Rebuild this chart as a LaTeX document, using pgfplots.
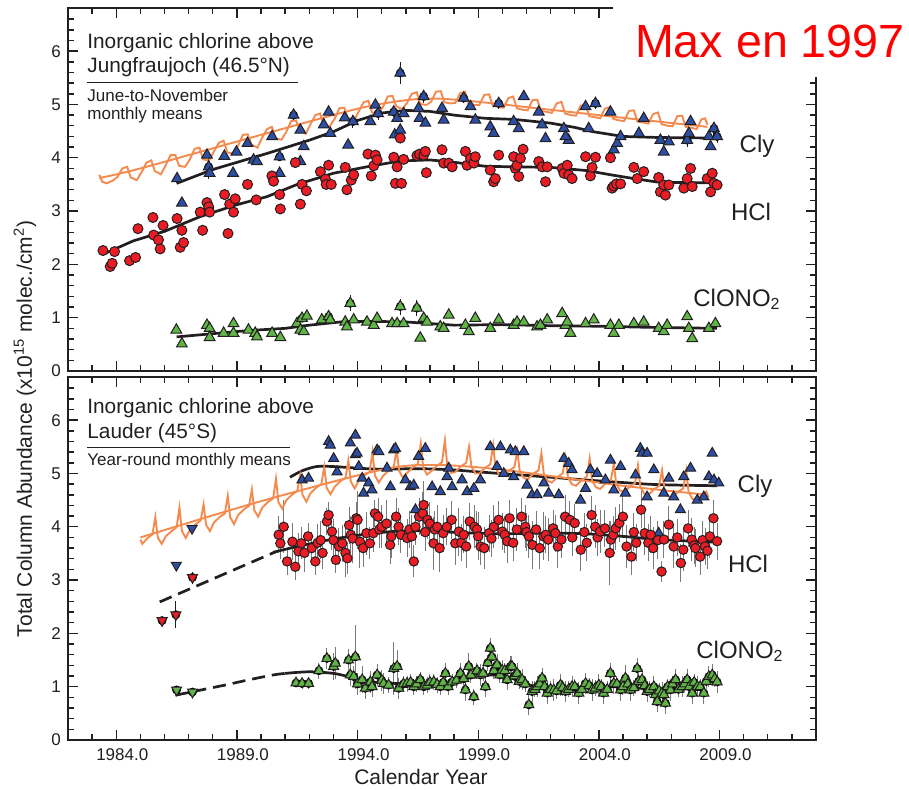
\documentclass[border=0pt]{standalone}
\usepackage{pgfplots}
\usepackage{pgfplotstable}
\pgfplotsset{compat=1.18}
\usepackage{fontspec}
\setmainfont{Liberation Sans}

\definecolor{axisgray}{HTML}{231F20}
\definecolor{hclred}{HTML}{EC1C24}
\definecolor{clyblue}{HTML}{2C4FA3}
\definecolor{cngreen}{HTML}{5FB545}
\definecolor{modorange}{HTML}{F58A4E}
\definecolor{bargray}{HTML}{7A7A7A}

% ---------- Jungfraujoch (June-November monthly means) ----------
\pgfplotstableread{
x y
1983.45 2.26
1983.75 1.96
1983.83 2.02
1983.93 2.24
1984.55 2.07
1984.80 2.13
1984.90 2.67
1985.52 2.88
1985.55 2.55
1985.75 2.46
1985.82 2.29
1985.94 2.73
1986.52 2.86
1986.65 2.32
1986.72 2.64
1986.79 2.41
1987.48 2.98
1987.58 2.64
1987.76 3.16
1987.83 3.08
1987.87 2.98
1988.49 3.31
1988.63 2.58
1988.70 3.13
1988.86 2.98
1988.93 3.23
1989.44 3.50
1989.80 3.21
1990.45 3.66
1990.52 3.56
1990.77 3.31
1990.80 3.04
1991.42 3.91
1991.63 3.13
1991.70 3.50
1991.88 3.38
1992.46 3.74
1992.67 3.60
1992.70 3.50
1992.80 3.86
1992.91 3.50
1993.49 3.82
1993.56 3.40
1993.74 3.58
1993.84 3.68
1994.43 4.07
1994.57 3.66
1994.67 3.85
1994.74 4.05
1994.81 3.96
1995.50 4.01
1995.57 3.52
1995.64 3.83
1995.77 4.37
1995.82 3.52
1995.91 3.97
1996.46 4.04
1996.57 4.07
1996.74 4.05
1996.81 4.12
1996.85 3.72
1997.50 4.15
1997.57 3.90
1997.78 3.90
1997.92 3.83
1998.47 4.12
1998.54 3.86
1998.68 3.99
1998.82 3.90
1998.88 4.02
1999.50 3.77
1999.64 3.55
1999.71 3.61
1999.85 4.05
2000.47 4.02
2000.54 3.80
2000.61 3.86
2000.68 3.65
2000.75 3.99
2000.86 4.16
2001.51 3.93
2001.65 3.83
2001.79 3.55
2001.86 3.83
2002.48 3.80
2002.55 3.71
2002.69 3.86
2002.75 3.68
2002.89 3.61
2003.45 4.02
2003.65 3.66
2003.72 3.82
2003.86 4.01
2004.48 4.00
2004.55 3.43
2004.62 3.47
2004.73 3.51
2004.90 3.51
2005.45 3.82
2005.59 3.61
2005.86 3.74
2006.48 3.63
2006.55 3.36
2006.69 3.49
2006.76 3.30
2006.90 3.49
2007.52 3.43
2007.66 3.61
2007.80 3.80
2007.87 3.46
2008.49 3.61
2008.63 3.36
2008.70 3.71
2008.77 3.52
2008.90 3.49
}\jfjhcl

\pgfplotstableread{
x y
1986.52 3.61
1986.72 3.15
1987.76 4.05
1987.83 3.83
1987.87 3.71
1988.48 4.03
1988.84 3.71
1988.98 4.11
1989.44 4.27
1989.69 3.96
1989.83 3.93
1990.46 4.40
1990.77 4.02
1990.77 3.71
1991.35 4.80
1991.63 4.52
1991.63 3.93
1991.77 4.21
1992.60 4.62
1992.80 4.86
1992.87 4.46
1993.47 4.75
1993.61 4.24
1993.81 4.68
1994.53 4.68
1994.74 4.99
1994.85 4.83
1995.50 4.86
1995.64 4.74
1995.54 4.43
1995.77 4.52
1995.77 5.59
1995.91 4.83
1996.53 4.93
1996.57 4.74
1996.81 4.65
1996.74 5.15
1997.50 4.93
1997.57 4.71
1998.40 5.12
1998.68 4.96
1998.88 4.71
1999.50 4.58
1999.64 4.46
1999.85 5.02
2000.47 4.68
2000.68 4.55
2000.89 5.15
2001.51 4.86
2001.79 4.36
2001.65 4.62
2002.55 4.55
2002.75 4.33
2002.62 4.40
2003.45 4.96
2003.58 4.55
2003.86 5.02
2004.48 4.86
2004.62 4.15
2004.76 4.27
2004.90 4.40
2005.86 4.74
2005.66 4.46
2006.69 4.11
2006.55 4.33
2006.90 4.30
2007.80 4.68
2007.66 4.33
2007.73 4.46
2008.77 4.55
2008.56 4.40
2008.90 4.40
2008.63 4.21
}\jfjcly

\pgfplotstableread{
x y
1986.49 0.77
1986.72 0.51
1987.76 0.86
1987.87 0.80
1987.87 0.63
1988.45 0.71
1988.86 0.89
1988.86 0.71
1989.48 0.77
1989.76 0.71
1989.83 0.64
1990.46 0.71
1990.80 0.63
1991.49 0.89
1991.63 0.77
1991.77 0.74
1991.70 0.99
1991.90 1.03
1992.52 0.96
1992.80 1.02
1992.87 0.96
1993.49 0.92
1993.56 0.83
1993.70 1.27
1993.84 0.96
1994.39 0.92
1994.67 0.86
1994.81 0.99
1995.43 0.89
1995.64 0.89
1995.77 1.21
1995.91 0.89
1996.46 1.18
1996.60 0.62
1996.74 0.99
1996.88 0.92
1997.43 0.83
1997.57 0.80
1997.78 1.05
1998.47 0.86
1998.61 0.74
1998.88 0.99
1999.50 0.80
1999.85 0.96
2000.47 0.86
2000.61 0.92
2000.89 0.92
2001.44 0.83
2001.58 0.86
2001.86 0.96
2002.48 1.08
2002.62 0.86
2002.82 0.71
2002.69 0.92
2003.45 0.89
2003.79 0.96
2004.48 0.86
2004.62 0.71
2004.83 0.86
2005.45 0.89
2005.86 0.92
2006.48 0.80
2006.69 0.74
2006.83 0.86
2007.66 1.02
2007.73 0.80
2007.87 0.61
2008.56 0.80
2008.83 0.89
}\jfjcn

\pgfplotstableread{
x y e
1995.77 5.59 0.20
1996.74 5.15 0.12
1991.35 4.80 0.10
1987.83 3.83 0.22
1993.81 4.68 0.12
1994.85 4.83 0.12
1995.50 4.86 0.10
1998.40 5.12 0.10
1999.85 5.02 0.10
2003.86 5.02 0.10
1984.90 2.67 0.08
1987.58 2.64 0.08
1995.77 4.37 0.08
1993.70 1.27 0.15
1995.77 1.21 0.15
1996.46 1.18 0.15
1992.80 1.02 0.08
1991.70 0.99 0.08
2007.66 4.33 0.12
2008.77 4.55 0.12
2008.90 4.40 0.12
1990.77 4.02 0.08
}\jfjbars

% ---------- Lauder (year-round monthly means) ----------
\pgfplotstableread{
x y e
1990.73 3.85 0.35
1990.94 4.00 0.50
1990.80 3.69 0.30
1991.08 3.35 0.25
1991.30 3.72 0.35
1991.42 3.25 0.25
1991.55 3.54 0.35
1991.67 3.69 0.30
1991.80 3.51 0.35
1991.95 3.82 0.25
1992.10 3.60 0.30
1992.25 3.35 0.25
1992.35 3.70 0.35
1992.47 3.75 0.35
1992.55 3.51 0.30
1992.73 4.10 0.25
1992.80 4.22 0.25
1992.94 3.91 0.35
1993.00 3.75 0.40
1993.10 3.38 0.25
1993.23 3.63 0.35
1993.37 3.69 0.35
1993.50 3.51 0.45
1993.58 3.41 0.30
1993.65 4.03 0.35
1993.72 3.85 0.35
1993.80 3.78 0.45
1993.95 4.16 0.30
1994.00 4.13 0.55
1994.10 3.72 0.50
1994.23 3.60 0.35
1994.37 3.88 0.40
1994.51 3.69 0.30
1994.65 3.88 0.35
1994.72 4.25 0.25
1994.85 4.19 0.35
1994.90 3.95 0.35
1995.00 4.00 0.40
1995.20 4.06 0.45
1995.35 3.66 0.35
1995.40 3.82 0.40
1995.60 4.19 0.35
1995.70 4.00 0.35
1995.80 3.85 0.35
1996.05 3.79 0.35
1996.15 3.95 0.35
1996.25 3.82 0.40
1996.33 3.35 0.30
1996.40 4.00 0.35
1996.55 4.19 0.35
1996.70 4.25 0.40
1996.74 4.41 0.45
1996.80 3.90 0.35
1996.90 4.13 0.35
1997.00 4.06 0.40
1997.15 3.69 0.50
1997.20 3.95 0.35
1997.30 4.00 0.40
1997.40 3.60 0.45
1997.55 3.88 0.35
1997.70 4.00 0.35
1997.90 4.13 0.35
1998.05 3.69 0.40
1998.20 3.91 0.45
1998.30 3.70 0.35
1998.40 3.85 0.35
1998.50 3.63 0.40
1998.65 4.10 0.35
1998.85 4.00 0.40
1998.95 3.95 0.35
1999.00 3.82 0.45
1999.10 3.63 0.35
1999.25 3.60 0.40
1999.45 3.88 0.35
1999.55 3.78 0.35
1999.65 4.00 0.40
1999.85 4.13 0.35
2000.00 3.91 0.35
2000.10 3.85 0.35
2000.20 3.73 0.40
2000.30 4.16 0.35
2000.45 3.70 0.35
2000.60 3.95 0.40
2000.80 4.19 0.35
2000.95 4.00 0.40
2001.00 3.90 0.35
2001.10 3.82 0.40
2001.25 3.66 0.45
2001.40 3.95 0.35
2001.55 3.60 0.40
2001.70 3.82 0.45
2001.80 3.85 0.35
2001.90 3.76 0.40
2002.10 3.97 0.35
2002.20 3.88 0.35
2002.30 3.63 0.40
2002.45 3.76 0.35
2002.60 4.19 0.40
2002.80 4.13 0.35
2002.90 3.80 0.35
2003.00 4.07 0.35
2003.25 3.57 0.40
2003.40 3.90 0.35
2003.50 3.70 0.35
2003.70 4.22 0.35
2003.85 4.00 0.40
2003.95 3.80 0.35
2004.05 3.91 0.40
2004.25 3.97 0.35
2004.45 3.51 0.60
2004.50 3.76 0.35
2004.60 3.85 0.35
2004.70 3.97 0.40
2004.85 4.07 0.35
2005.00 4.19 0.40
2005.15 3.63 0.40
2005.35 3.44 0.35
2005.45 3.90 0.35
2005.55 3.70 0.35
2005.75 4.32 0.35
2005.90 3.88 0.40
2006.05 3.70 0.35
2006.15 3.85 0.35
2006.25 3.60 0.40
2006.45 3.75 0.35
2006.60 3.16 0.20
2006.70 3.76 0.35
2006.90 4.04 0.35
2007.10 3.63 0.40
2007.25 3.80 0.35
2007.40 3.32 0.35
2007.50 3.57 0.40
2007.70 3.97 0.35
2007.85 3.76 0.40
2007.95 3.65 0.35
2008.00 3.60 0.35
2008.20 3.44 0.35
2008.30 3.75 0.35
2008.40 3.63 0.35
2008.50 3.55 0.35
2008.60 3.82 0.40
2008.75 4.16 0.35
2008.90 3.73 0.35
}\lauhcl

\pgfplotstableread{
x y
1991.70 4.88
1991.97 4.91
1992.80 5.60
1992.87 5.53
1993.01 5.28
1993.15 5.03
1993.70 5.57
1993.91 5.72
1993.91 5.35
1993.98 5.38
1994.05 5.13
1994.19 4.91
1994.25 4.63
1994.46 4.82
1994.60 4.69
1994.81 5.44
1994.88 5.41
1995.22 5.10
1995.36 4.75
1995.50 5.44
1995.57 5.47
1995.98 4.88
1996.19 4.75
1996.33 4.78
1996.40 4.32
1996.53 5.32
1996.81 5.47
1997.09 4.75
1997.43 4.66
1997.71 4.94
1997.78 5.10
1997.92 4.75
1998.33 4.88
1998.54 4.66
1998.82 4.72
1999.09 4.88
1999.50 5.50
1999.78 5.13
1999.92 5.50
2000.06 5.00
2000.33 5.44
2000.47 4.94
2000.54 5.41
2000.89 5.41
2001.02 4.78
2001.23 4.60
2001.44 4.60
2001.72 4.82
2001.92 4.63
2002.34 4.60
2002.55 5.28
2002.75 5.19
2002.89 5.07
2003.24 4.50
2003.45 4.72
2003.65 5.07
2003.93 5.00
2004.27 4.88
2004.48 5.25
2004.62 4.69
2004.90 5.13
2005.10 4.63
2005.52 4.97
2005.72 5.47
2005.79 5.38
2006.00 5.38
2006.00 4.56
2006.28 5.07
2006.48 3.88
2006.69 4.63
2006.90 4.91
2007.10 4.56
2007.38 4.32
2007.52 4.94
2007.80 5.10
2008.08 4.50
2008.35 4.56
2008.56 4.94
2008.70 5.38
2008.77 4.88
2008.97 4.82
}\laucly

\pgfplotstableread{
x y e
1991.45 1.07 0.08
1991.70 1.06 0.10
1991.97 1.06 0.10
1992.40 1.30 0.15
1992.73 1.53 0.20
1993.01 1.38 0.25
1993.08 1.44 0.30
1993.63 1.50 0.20
1993.70 1.22 0.20
1993.84 1.19 0.20
1993.91 1.56 0.60
1994.00 1.05 0.20
1994.19 1.13 0.25
1994.32 0.97 0.20
1994.53 1.09 0.20
1994.60 1.00 0.20
1994.81 1.22 0.20
1995.00 1.12 0.20
1995.08 1.06 0.20
1995.29 1.03 0.15
1995.50 1.34 0.50
1995.64 1.38 0.30
1995.71 0.97 0.20
1995.90 1.05 0.15
1996.05 1.06 0.15
1996.20 1.08 0.15
1996.33 1.00 0.15
1996.45 1.05 0.15
1996.60 1.13 0.15
1996.75 1.00 0.15
1996.88 1.03 0.15
1997.00 1.08 0.15
1997.16 1.09 0.15
1997.30 1.04 0.15
1997.43 1.00 0.15
1997.55 1.08 0.15
1997.64 1.25 0.20
1997.75 1.00 0.15
1997.92 1.09 0.15
1998.10 1.12 0.15
1998.26 1.25 0.20
1998.40 1.15 0.15
1998.47 0.94 0.20
1998.61 1.38 0.25
1998.70 1.22 0.15
1998.82 0.81 0.15
1998.95 1.30 0.15
1999.09 1.22 0.20
1999.20 1.25 0.15
1999.30 1.00 0.20
1999.40 1.45 0.15
1999.50 1.72 0.20
1999.57 1.56 0.20
1999.65 1.30 0.15
1999.78 1.41 0.20
1999.90 1.22 0.15
1999.99 1.31 0.20
2000.10 1.30 0.15
2000.20 1.13 0.20
2000.33 1.38 0.20
2000.40 1.38 0.20
2000.50 1.20 0.15
2000.61 1.25 0.20
2000.70 1.10 0.15
2000.82 1.13 0.20
2000.95 1.05 0.15
2001.10 0.66 0.20
2001.23 0.91 0.20
2001.35 0.95 0.15
2001.44 1.00 0.20
2001.55 1.05 0.15
2001.65 1.16 0.20
2001.75 1.00 0.15
2001.86 0.88 0.20
2002.00 0.95 0.15
2002.13 0.94 0.20
2002.25 0.92 0.15
2002.41 1.03 0.20
2002.50 0.98 0.15
2002.62 0.91 0.20
2002.75 0.95 0.15
2002.89 1.00 0.20
2003.00 1.00 0.15
2003.17 0.88 0.20
2003.30 0.95 0.15
2003.45 1.06 0.20
2003.60 1.02 0.15
2003.72 0.94 0.20
2003.85 0.97 0.15
2004.00 1.03 0.20
2004.10 1.00 0.15
2004.20 0.88 0.20
2004.35 0.95 0.15
2004.48 1.25 0.20
2004.62 1.06 0.20
2004.75 1.05 0.15
2004.90 0.94 0.20
2005.00 1.00 0.15
2005.10 1.16 0.25
2005.20 1.05 0.15
2005.31 0.94 0.20
2005.45 0.98 0.15
2005.59 1.34 0.20
2005.65 1.10 0.15
2005.79 1.13 0.20
2005.90 1.02 0.15
2006.00 0.91 0.20
2006.10 0.95 0.15
2006.28 1.00 0.20
2006.35 0.85 0.15
2006.42 0.72 0.20
2006.50 0.92 0.15
2006.62 0.88 0.20
2006.70 0.85 0.15
2006.76 0.69 0.20
2006.85 1.00 0.15
2006.97 0.94 0.20
2007.05 1.05 0.15
2007.18 1.13 0.20
2007.30 0.95 0.15
2007.45 1.00 0.20
2007.55 1.05 0.15
2007.66 1.13 0.20
2007.75 1.00 0.15
2007.87 0.88 0.20
2007.95 1.08 0.15
2008.08 1.00 0.20
2008.20 1.00 0.15
2008.35 0.88 0.20
2008.45 1.10 0.15
2008.56 1.19 0.20
2008.70 1.22 0.20
2008.80 1.15 0.15
2008.90 1.09 0.20
}\laucn

% early Lauder measurements (downward triangles)
\pgfplotstableread{
x y e
1985.90 2.24 0.05
1986.47 2.35 0.25
1987.16 3.05 0.10
}\lauhclearly
\pgfplotstableread{
x y
1986.49 3.28
1987.14 3.97
}\lauclyearly
\pgfplotstableread{
x y e
1986.50 0.94 0.08
1987.16 0.90 0.05
}\laucnearly

\pgfplotsset{
  panel/.style={
    scale only axis, width=374pt, height=181.5pt,
    xmin=1982, xmax=2013, ymin=0, ymax=6.81,
    axis line style={line width=1.3pt, draw=axisgray},
    every tick/.style={draw=axisgray, line width=0.7pt},
    tick align=inside, tick pos=both,
    xtick={1984,1989,1994,1999,2004,2009},
    minor xtick={1982,1983,...,2013},
    ytick={0,1,2,3,4,5,6},
    minor ytick={0.2,0.4,0.6,0.8,1.2,1.4,1.6,1.8,2.2,2.4,2.6,2.8,3.2,3.4,3.6,3.8,4.2,4.4,4.6,4.8,5.2,5.4,5.6,5.8,6.2,6.4,6.6},
    major tick length=5pt, minor tick length=3pt,
    ticklabel style={font=\fontsize{8.5}{10}\selectfont, text=axisgray},
    /pgf/number format/assume math mode=true,
    clip=false,
  },
  hclmark/.style={only marks, mark=*, mark size=2.5pt,
    mark options={fill=hclred, draw=axisgray, line width=0.5pt}},
  clymark/.style={only marks, mark=triangle*, mark size=3.1pt,
    mark options={fill=clyblue, draw=axisgray, line width=0.5pt}},
  cnmark/.style={only marks, mark=triangle*, mark size=3.1pt,
    mark options={fill=cngreen, draw=axisgray, line width=0.5pt}},
  downmark/.style={only marks, mark=triangle*, mark size=2.9pt,
    mark options={fill=#1, draw=axisgray, line width=0.5pt, rotate=180}},
  fitline/.style={no marks, line width=1.35pt, draw=axisgray},
  modelline/.style={no marks, line width=0.95pt, draw=modorange},
  bars/.style={only marks, mark=none, forget plot,
    error bars/.cd, y dir=both, y explicit, error mark=none,
    error bar style={draw=#1, line width=0.5pt}},
}

\begin{document}
\begin{tikzpicture}
\useasboundingbox (0,0) rectangle (454.5pt,394.5pt);

% ================= upper panel: Jungfraujoch =================
\begin{axis}[panel, at={(34pt,209pt)}, anchor=south west, xticklabels={}]
\addplot[bars=axisgray] table[x=x, y=y, y error=e] {\jfjbars};
\addplot[cnmark] table[x=x, y=y] {\jfjcn};
\addplot[clymark] table[x=x, y=y] {\jfjcly};
\addplot[hclmark] table[x=x, y=y] {\jfjhcl};
% fitted trends
\addplot[fitline] coordinates {(1986.5,3.52) (1988,3.78) (1990.24,4.08) (1992,4.33) (1993,4.49) (1994,4.70) (1995,4.84) (1996,4.89) (1997,4.87) (1998,4.80) (1999.3,4.74) (2000.5,4.72) (2002,4.65) (2003,4.57) (2003.75,4.49) (2005,4.40) (2006.5,4.38) (2008.9,4.37)};
\addplot[fitline] coordinates {(1983.6,2.22) (1984.7,2.44) (1986,2.62) (1987.5,2.90) (1989,3.12) (1990.24,3.27) (1991.5,3.50) (1993,3.71) (1994.5,3.84) (1995.77,3.94) (1997,3.96) (1998.1,3.91) (1999.3,3.84) (2000.5,3.83) (2002,3.82) (2003.5,3.76) (2004.5,3.68) (2005.45,3.61) (2006.5,3.54) (2008.9,3.53)};
\addplot[fitline] coordinates {(1986.5,0.64) (1988,0.70) (1989.5,0.76) (1991,0.80) (1992,0.86) (1993.5,0.93) (1994.8,0.93) (1996,0.92) (1998,0.86) (2000,0.87) (2002,0.85) (2004,0.84) (2006,0.82) (2008.9,0.80)};
% modelled Cly: seasonal cycle and trend
\addplot[modelline, smooth] coordinates {(1983.3,3.62) (1985,3.80) (1990,4.43) (1994,4.92) (1996,5.08) (1997.3,5.11) (1999,5.05) (2002,4.90) (2005,4.75) (2008.5,4.58)};
\addplot[modelline] coordinates {
(1983.30,3.68) (1983.42,3.55) (1983.60,3.52) (1983.85,3.57)
(1984.05,3.64) (1984.25,3.80) (1984.45,3.83) (1984.60,3.63) (1984.85,3.58)
(1985.05,3.73) (1985.25,3.91) (1985.45,3.95) (1985.60,3.75) (1985.85,3.69)
(1986.05,3.86) (1986.25,4.05) (1986.45,4.05) (1986.60,3.85) (1986.85,3.83)
(1987.05,3.97) (1987.25,4.17) (1987.45,4.19) (1987.60,3.97) (1987.85,3.95)
(1988.05,4.12) (1988.25,4.28) (1988.45,4.32) (1988.60,4.10) (1988.85,4.08)
(1989.05,4.23) (1989.25,4.43) (1989.45,4.44) (1989.60,4.25) (1989.85,4.19)
(1990.05,4.38) (1990.25,4.54) (1990.45,4.58) (1990.60,4.36) (1990.85,4.34)
(1991.05,4.49) (1991.25,4.69) (1991.45,4.70) (1991.60,4.51) (1991.85,4.45)
(1992.05,4.63) (1992.25,4.80) (1992.45,4.83) (1992.60,4.61) (1992.85,4.59)
(1993.05,4.73) (1993.25,4.93) (1993.45,4.94) (1993.60,4.75) (1993.85,4.70)
(1994.05,4.87) (1994.25,5.04) (1994.45,5.07) (1994.60,4.85) (1994.85,4.83)
(1995.05,4.95) (1995.25,5.15) (1995.45,5.16) (1995.60,4.97) (1995.85,4.91)
(1996.05,5.03) (1996.25,5.20) (1996.45,5.23) (1996.60,5.01) (1996.85,4.99)
(1997.05,5.05) (1997.25,5.24) (1997.45,5.25) (1997.60,5.04) (1997.85,5.02)
(1998.05,5.03) (1998.25,5.21) (1998.45,5.24) (1998.60,5.02) (1998.85,4.99)
(1999.05,4.99) (1999.25,5.18) (1999.45,5.19) (1999.60,4.98) (1999.85,4.96)
(2000.05,4.94) (2000.25,5.12) (2000.45,5.15) (2000.60,4.93) (2000.85,4.90)
(2001.05,4.89) (2001.25,5.08) (2001.45,5.09) (2001.60,4.88) (2001.85,4.86)
(2002.05,4.84) (2002.25,5.02) (2002.45,5.05) (2002.60,4.83) (2002.85,4.80)
(2003.05,4.79) (2003.25,4.98) (2003.45,4.99) (2003.60,4.78) (2003.85,4.76)
(2004.05,4.74) (2004.25,4.92) (2004.45,4.95) (2004.60,4.73) (2004.85,4.70)
(2005.05,4.69) (2005.25,4.88) (2005.45,4.89) (2005.60,4.68) (2005.85,4.66)
(2006.05,4.64) (2006.25,4.82) (2006.45,4.85) (2006.60,4.63) (2006.85,4.60)
(2007.05,4.59) (2007.25,4.78) (2007.45,4.79) (2007.60,4.58) (2007.85,4.56)
(2008.05,4.54) (2008.25,4.72) (2008.40,4.74) (2008.50,4.62)};
\end{axis}

% ================= lower panel: Lauder =================
\begin{axis}[panel, at={(34pt,24.5pt)}, anchor=south west,
  xticklabels={1984.0,1989.0,1994.0,1999.0,2004.0,2009.0},
  xticklabel style={xshift=3pt, yshift=-1pt}]
\addplot[bars=bargray] table[x=x, y=y, y error=e] {\laucn};
\addplot[bars=bargray] table[x=x, y=y, y error=e] {\lauhcl};
\addplot[bars=axisgray] table[x=x, y=y, y error=e] {\lauhclearly};
\addplot[bars=axisgray] table[x=x, y=y, y error=e] {\laucnearly};
\addplot[cnmark, mark size=2.9pt] table[x=x, y=y] {\laucn};
\addplot[clymark, mark size=2.9pt] table[x=x, y=y] {\laucly};
\addplot[hclmark, mark size=2.35pt] table[x=x, y=y] {\lauhcl};
\addplot[downmark=hclred] table[x=x, y=y] {\lauhclearly};
\addplot[downmark=clyblue] table[x=x, y=y] {\lauclyearly};
\addplot[downmark=cngreen] table[x=x, y=y] {\laucnearly};
% fitted trends
\addplot[fitline, smooth, tension=0.5] coordinates {(1991.2,4.93) (1991.7,5.05) (1992.3,5.13) (1993,5.13) (1994,5.10) (1995,5.08) (1996.5,5.09) (1997.85,5.07) (1999,5.03) (2000.5,4.98) (2002,4.93) (2003.4,4.88) (2005,4.83) (2006.5,4.79) (2008.9,4.77)};
\addplot[fitline, dash pattern=on 6.5pt off 3.5pt] coordinates {(1985.8,2.59) (1990.6,3.53)};
\addplot[fitline, smooth, tension=0.5] coordinates {(1990.5,3.52) (1991.5,3.63) (1993,3.77) (1994.5,3.87) (1995.77,3.92) (1997,3.92) (1998.26,3.89) (2000,3.87) (2002,3.88) (2003.4,3.87) (2005,3.82) (2006.5,3.76) (2008.9,3.71)};
\addplot[fitline] coordinates {(1986.45,0.84) (1987.2,0.91)};
\addplot[fitline, dash pattern=on 6.5pt off 3.5pt, smooth] coordinates {(1987.2,0.91) (1988.5,1.03) (1989.5,1.13) (1990.5,1.22) (1991.0,1.25)};
\addplot[fitline, smooth, tension=0.5] coordinates {(1991.0,1.25) (1992,1.28) (1993,1.25) (1993.7,1.18) (1994.4,1.10) (1995.2,1.07) (1996.2,1.05) (1997.5,1.05) (1998.7,1.17) (1999.5,1.22) (2000.3,1.18) (2000.8,1.08) (2001.5,0.99) (2002.4,0.95) (2003.5,0.98) (2004.5,1.00) (2005.5,0.98) (2006.5,0.94) (2007.5,0.98) (2008.3,1.05) (2008.9,1.13)};
% modelled Cly: seasonal cycle and trend
\addplot[modelline, smooth] coordinates {(1985,3.80) (1990,4.48) (1995,5.07) (1997.2,5.16) (2000,5.07) (2005,4.77) (2008.5,4.60)};
\addplot[modelline] coordinates {
(1985.00,3.76) (1985.08,3.68) (1985.30,3.79) (1985.50,3.86) (1985.62,4.18) (1985.72,3.80) (1985.88,3.68)
(1986.05,3.82) (1986.30,3.92) (1986.50,3.99) (1986.62,4.36) (1986.72,3.92) (1986.88,3.79)
(1987.05,3.94) (1987.30,4.05) (1987.50,4.12) (1987.62,4.42) (1987.72,4.04) (1987.88,3.92)
(1988.05,4.08) (1988.30,4.19) (1988.50,4.25) (1988.62,4.58) (1988.72,4.18) (1988.88,4.05)
(1989.05,4.22) (1989.30,4.33) (1989.50,4.39) (1989.62,4.70) (1989.72,4.31) (1989.88,4.19)
(1990.05,4.36) (1990.30,4.47) (1990.50,4.53) (1990.62,4.90) (1990.72,4.46) (1990.88,4.34)
(1991.05,4.50) (1991.30,4.61) (1991.50,4.67) (1991.62,4.96) (1991.72,4.60) (1991.88,4.47)
(1992.05,4.63) (1992.30,4.74) (1992.50,4.80) (1992.62,5.12) (1992.72,4.73) (1992.88,4.61)
(1993.05,4.75) (1993.30,4.86) (1993.50,4.92) (1993.62,5.24) (1993.72,4.85) (1993.88,4.72)
(1994.05,4.86) (1994.30,4.97) (1994.50,5.03) (1994.62,5.40) (1994.72,4.96) (1994.88,4.83)
(1995.05,4.95) (1995.30,5.06) (1995.50,5.12) (1995.62,5.46) (1995.72,5.05) (1995.88,4.92)
(1996.05,5.01) (1996.30,5.12) (1996.50,5.18) (1996.62,5.56) (1996.72,5.11) (1996.88,4.98)
(1997.05,5.04) (1997.30,5.15) (1997.50,5.21) (1997.62,5.62) (1997.72,5.14) (1997.88,5.01)
(1998.05,5.03) (1998.30,5.14) (1998.50,5.20) (1998.62,5.50) (1998.72,5.13) (1998.88,5.00)
(1999.05,5.00) (1999.30,5.11) (1999.50,5.17) (1999.62,5.53) (1999.72,5.10) (1999.88,4.97)
(2000.05,4.95) (2000.30,5.06) (2000.50,5.12) (2000.62,5.42) (2000.72,5.05) (2000.88,4.92)
(2001.05,4.89) (2001.30,5.00) (2001.50,5.06) (2001.62,5.38) (2001.72,4.99) (2001.88,4.86)
(2002.05,4.83) (2002.30,4.94) (2002.50,5.00) (2002.62,5.30) (2002.72,4.93) (2002.88,4.80)
(2003.05,4.77) (2003.30,4.88) (2003.50,4.94) (2003.62,5.28) (2003.72,4.87) (2003.88,4.74)
(2004.05,4.71) (2004.30,4.82) (2004.50,4.88) (2004.62,5.18) (2004.72,4.81) (2004.88,4.68)
(2005.05,4.65) (2005.30,4.76) (2005.50,4.82) (2005.62,5.15) (2005.72,4.75) (2005.88,4.62)
(2006.05,4.60) (2006.30,4.71) (2006.50,4.77) (2006.62,5.06) (2006.72,4.70) (2006.88,4.57)
(2007.05,4.55) (2007.30,4.66) (2007.50,4.72) (2007.62,5.05) (2007.72,4.65) (2007.88,4.52)
(2008.05,4.50) (2008.30,4.61) (2008.45,4.66) (2008.55,4.55)};
\end{axis}

% ================= annotations (coordinates in pixels of a 909 x 789 canvas) =================
\begin{scope}[x=0.5pt, y=0.5pt, every node/.style={inner sep=0pt, text=axisgray}]
  % panel captions
  \node[anchor=base west, font=\fontsize{10.4}{12}\selectfont] at (87,740) {Inorganic chlorine above};
  \node[anchor=base west, font=\fontsize{10.4}{12}\selectfont] at (87,716) {Jungfraujoch (46.5°N)};
  \draw[axisgray, line width=0.5pt] (87,706) -- (298,706);
  \node[anchor=base west, font=\fontsize{8.5}{10}\selectfont] at (87,687) {June-to-November};
  \node[anchor=base west, font=\fontsize{8.5}{10}\selectfont] at (87,669) {monthly means};

  \node[anchor=base west, font=\fontsize{10.4}{12}\selectfont] at (87,376) {Inorganic chlorine above};
  \node[anchor=base west, font=\fontsize{10.4}{12}\selectfont] at (87,351) {Lauder (45°S)};
  \draw[axisgray, line width=0.5pt] (87,342) -- (290,342);
  \node[anchor=base west, font=\fontsize{8.5}{10}\selectfont] at (87,324) {Year-round monthly means};

  % species labels
  \node[anchor=base, font=\fontsize{12}{14}\selectfont] at (757,637) {Cly};
  \node[anchor=base, font=\fontsize{12}{14}\selectfont] at (751,569) {HCl};
  \node[anchor=base, font=\fontsize{12}{14}\selectfont] at (737,483) {ClONO\textsubscript{2}};
  \node[anchor=base, font=\fontsize{12}{14}\selectfont] at (755,297) {Cly};
  \node[anchor=base, font=\fontsize{12}{14}\selectfont] at (748,217) {HCl};
  \node[anchor=base, font=\fontsize{12}{14}\selectfont] at (740,131) {ClONO\textsubscript{2}};

  % axis titles
  \node[rotate=90, anchor=center, font=\fontsize{10.5}{12}\selectfont] at (25,360)
    {Total Column Abundance (x10\textsuperscript{15} molec./cm\textsuperscript{2})};
  \node[anchor=base, font=\fontsize{10.5}{12}\selectfont] at (421,5) {Calendar Year};

  % headline box
  \fill[white] (613,712) rectangle (909,789);
  \node[anchor=base east, font=\fontsize{23.3}{28}\selectfont, text=red] at (905,731) {Max en 1997};
\end{scope}
\end{tikzpicture}
\end{document}
